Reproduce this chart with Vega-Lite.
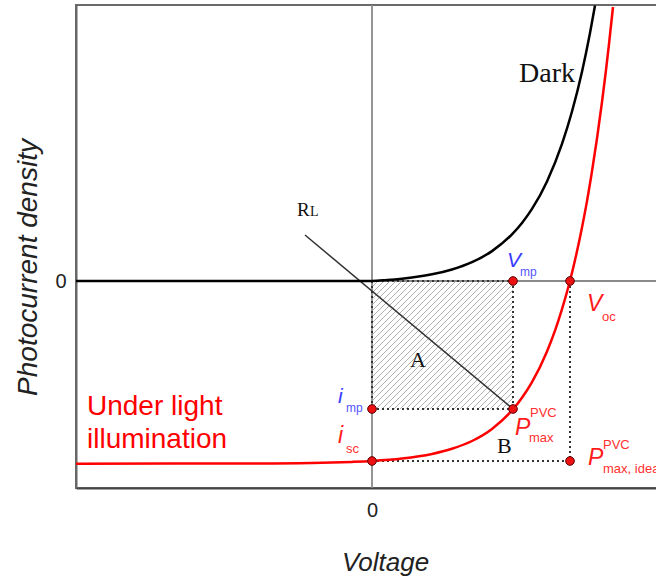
{
  "$schema": "https://vega.github.io/schema/vega-lite/v6.json",
  "width": 581,
  "height": 483,
  "autosize": "none",
  "padding": {"left": 76, "top": 5, "right": 0, "bottom": 89},
  "background": "white",
  "config": {
    "view": {"stroke": "#6a6a6a", "strokeWidth": 2},
    "axis": {"grid": false, "ticks": false, "labelFont": "Liberation Sans", "labelFontSize": 20, "labelColor": "#222", "titleFont": "Liberation Sans", "titleFontStyle": "italic", "titleFontWeight": "normal", "titleColor": "#222"}
  },
  "datasets": {
    "red": [
      {"x": -296, "y": -182.7}, {"x": -200, "y": -182.6}, {"x": -100, "y": -182.4}, {"x": -50, "y": -181.8},
      {"x": -20, "y": -180.9}, {"x": 0, "y": -180}, {"x": 30, "y": -177.6}, {"x": 60, "y": -173},
      {"x": 80, "y": -167.8}, {"x": 100, "y": -160}, {"x": 120, "y": -147.9}, {"x": 141, "y": -128.3},
      {"x": 150, "y": -116.8}, {"x": 160, "y": -101.2}, {"x": 175, "y": -70.5}, {"x": 183, "y": -49.7},
      {"x": 190, "y": -28.2}, {"x": 198, "y": 0.2}, {"x": 204, "y": 25.2}, {"x": 210, "y": 53.6},
      {"x": 215, "y": 79.9}, {"x": 220, "y": 109.7}, {"x": 225, "y": 142.5}, {"x": 230, "y": 179},
      {"x": 234, "y": 211}, {"x": 237, "y": 237}, {"x": 241, "y": 274}
    ],
    "dark": [
      {"x": -296, "y": 0}, {"x": 0, "y": 0}, {"x": 15, "y": 0.98}, {"x": 30, "y": 2.32}, {"x": 45, "y": 4.15},
      {"x": 60, "y": 6.65}, {"x": 80, "y": 11.5}, {"x": 100, "y": 18.8}, {"x": 120, "y": 29.9},
      {"x": 140, "y": 46.7}, {"x": 150, "y": 58.1}, {"x": 160, "y": 72.1}, {"x": 175, "y": 99.6},
      {"x": 190, "y": 137.2}, {"x": 200, "y": 169.5}, {"x": 210, "y": 209.3}, {"x": 218, "y": 248},
      {"x": 223, "y": 275.5}
    ],
    "hatch": [
      {"x": 0, "y": -6, "x2": 6, "y2": 0}, {"x": 0, "y": -12, "x2": 12, "y2": 0}, {"x": 0, "y": -18, "x2": 18, "y2": 0},
      {"x": 0, "y": -24, "x2": 24, "y2": 0}, {"x": 0, "y": -30, "x2": 30, "y2": 0}, {"x": 0, "y": -36, "x2": 36, "y2": 0},
      {"x": 0, "y": -42, "x2": 42, "y2": 0}, {"x": 0, "y": -48, "x2": 48, "y2": 0}, {"x": 0, "y": -54, "x2": 54, "y2": 0},
      {"x": 0, "y": -60, "x2": 60, "y2": 0}, {"x": 0, "y": -66, "x2": 66, "y2": 0}, {"x": 0, "y": -72, "x2": 72, "y2": 0},
      {"x": 0, "y": -78, "x2": 78, "y2": 0}, {"x": 0, "y": -84, "x2": 84, "y2": 0}, {"x": 0, "y": -90, "x2": 90, "y2": 0},
      {"x": 0, "y": -96, "x2": 96, "y2": 0}, {"x": 0, "y": -102, "x2": 102, "y2": 0}, {"x": 0, "y": -108, "x2": 108, "y2": 0},
      {"x": 0, "y": -114, "x2": 114, "y2": 0}, {"x": 0, "y": -120, "x2": 120, "y2": 0}, {"x": 0, "y": -126, "x2": 126, "y2": 0},
      {"x": 4, "y": -128, "x2": 132, "y2": 0}, {"x": 10, "y": -128, "x2": 138, "y2": 0}, {"x": 16, "y": -128, "x2": 141, "y2": -3},
      {"x": 22, "y": -128, "x2": 141, "y2": -9}, {"x": 28, "y": -128, "x2": 141, "y2": -15}, {"x": 34, "y": -128, "x2": 141, "y2": -21},
      {"x": 40, "y": -128, "x2": 141, "y2": -27}, {"x": 46, "y": -128, "x2": 141, "y2": -33}, {"x": 52, "y": -128, "x2": 141, "y2": -39},
      {"x": 58, "y": -128, "x2": 141, "y2": -45}, {"x": 64, "y": -128, "x2": 141, "y2": -51}, {"x": 70, "y": -128, "x2": 141, "y2": -57},
      {"x": 76, "y": -128, "x2": 141, "y2": -63}, {"x": 82, "y": -128, "x2": 141, "y2": -69}, {"x": 88, "y": -128, "x2": 141, "y2": -75},
      {"x": 94, "y": -128, "x2": 141, "y2": -81}, {"x": 100, "y": -128, "x2": 141, "y2": -87}, {"x": 106, "y": -128, "x2": 141, "y2": -93},
      {"x": 112, "y": -128, "x2": 141, "y2": -99}, {"x": 118, "y": -128, "x2": 141, "y2": -105}, {"x": 124, "y": -128, "x2": 141, "y2": -111},
      {"x": 130, "y": -128, "x2": 141, "y2": -117}, {"x": 136, "y": -128, "x2": 141, "y2": -123}
    ],
    "zerolines": [
      {"x": -296, "y": 0, "x2": 285, "y2": 0},
      {"x": 0, "y": -207, "x2": 0, "y2": 276}
    ],
    "dotted": [
      {"x": 0, "y": 0, "x2": 141, "y2": 0},
      {"x": 141, "y": 0, "x2": 141, "y2": -128},
      {"x": 0, "y": -128, "x2": 141, "y2": -128},
      {"x": 0, "y": 0, "x2": 0, "y2": -128},
      {"x": 0, "y": -180, "x2": 198, "y2": -180},
      {"x": 198, "y": 0, "x2": 198, "y2": -180}
    ],
    "load": [{"x": -67, "y": 46, "x2": 141, "y2": -128}],
    "points": [
      {"x": 141, "y": 0}, {"x": 198, "y": 0}, {"x": 0, "y": -128},
      {"x": 141, "y": -128}, {"x": 0, "y": -180}, {"x": 198, "y": -180}
    ],
    "serifBig": [{"x": 147, "y": 199, "t": "Dark"}],
    "serifMid": [{"x": 38, "y": -86, "t": "A"}, {"x": 125, "y": -172, "t": "B"}],
    "serifR": [{"x": -75, "y": 65, "t": "R"}],
    "serifL": [{"x": -62, "y": 65, "t": "L"}],
    "blueBig": [{"x": 135, "y": 14, "t": "V"}, {"x": -34, "y": -122, "t": "i"}],
    "blueSmall": [{"x": 148, "y": 5, "t": "mp"}, {"x": -26, "y": -131, "t": "mp"}],
    "redBig": [{"x": 215, "y": -30, "t": "V"}, {"x": -34, "y": -162, "t": "i"}, {"x": 143, "y": -154, "t": "P"}, {"x": 216, "y": -184, "t": "P"}],
    "redSmall": [
      {"x": 230, "y": -40, "t": "oc"}, {"x": -26, "y": -172, "t": "sc"},
      {"x": 158, "y": -136, "t": "PVC"}, {"x": 157, "y": -161, "t": "max"},
      {"x": 231, "y": -168, "t": "PVC"}, {"x": 231, "y": -192, "t": "max, ideal"}
    ],
    "illum": [{"x": -285, "y": -134, "t": "Under light"}, {"x": -285, "y": -167, "t": "illumination"}]
  },
  "encoding": {
    "x": {
      "field": "x", "type": "quantitative",
      "scale": {"domain": [-296, 285], "nice": false, "zero": false},
      "axis": {"values": [0], "domain": true, "domainColor": "#444", "domainWidth": 2, "labelPadding": 12,
               "title": "Voltage", "titleFontSize": 26, "titleX": 309, "titleY": 82, "titleBaseline": "alphabetic", "titleAlign": "center"}
    },
    "y": {
      "field": "y", "type": "quantitative",
      "scale": {"domain": [-207, 276], "nice": false, "zero": false},
      "axis": {"values": [0], "domain": true, "domainColor": "#666", "domainWidth": 2, "labelPadding": 10,
               "title": "Photocurrent density", "titleFontSize": 28, "titleX": -40, "titleY": 262, "titleBaseline": "alphabetic", "titleAlign": "center", "titleAngle": 270}
    }
  },
  "layer": [
    {"data": {"name": "hatch"}, "mark": {"type": "rule", "color": "#b0b0b0", "strokeWidth": 1}, "encoding": {"x2": {"field": "x2"}, "y2": {"field": "y2"}}},
    {"data": {"name": "zerolines"}, "mark": {"type": "rule", "color": "#8a8a8a", "strokeWidth": 1.8}, "encoding": {"x2": {"field": "x2"}, "y2": {"field": "y2"}}},
    {"data": {"name": "dotted"}, "mark": {"type": "rule", "color": "#333", "strokeWidth": 2, "strokeDash": [2, 3]}, "encoding": {"x2": {"field": "x2"}, "y2": {"field": "y2"}}},
    {"data": {"name": "load"}, "mark": {"type": "rule", "color": "#333", "strokeWidth": 1.5}, "encoding": {"x2": {"field": "x2"}, "y2": {"field": "y2"}}},
    {"data": {"name": "dark"}, "mark": {"type": "line", "color": "#000", "strokeWidth": 2.5, "interpolate": "monotone"}, "encoding": {}},
    {"data": {"name": "red"}, "mark": {"type": "line", "color": "#ff0000", "strokeWidth": 2.5, "interpolate": "monotone"}, "encoding": {}},
    {"data": {"name": "points"}, "mark": {"type": "circle", "size": 75, "fill": "#ee1111", "stroke": "#5a0000", "strokeWidth": 1, "opacity": 1}, "encoding": {}},
    {"data": {"name": "serifBig"}, "mark": {"type": "text", "align": "left", "baseline": "alphabetic", "font": "Liberation Serif", "fontSize": 28, "color": "#111"}, "encoding": {"text": {"field": "t"}}},
    {"data": {"name": "serifMid"}, "mark": {"type": "text", "align": "left", "baseline": "alphabetic", "font": "Liberation Serif", "fontSize": 22, "color": "#111"}, "encoding": {"text": {"field": "t"}}},
    {"data": {"name": "serifR"}, "mark": {"type": "text", "align": "left", "baseline": "alphabetic", "font": "Liberation Serif", "fontSize": 19, "color": "#111"}, "encoding": {"text": {"field": "t"}}},
    {"data": {"name": "serifL"}, "mark": {"type": "text", "align": "left", "baseline": "alphabetic", "font": "Liberation Serif", "fontSize": 14, "color": "#111"}, "encoding": {"text": {"field": "t"}}},
    {"data": {"name": "blueBig"}, "mark": {"type": "text", "align": "left", "baseline": "alphabetic", "font": "Liberation Sans", "fontStyle": "italic", "fontSize": 21, "color": "#3a3aff"}, "encoding": {"text": {"field": "t"}}},
    {"data": {"name": "blueSmall"}, "mark": {"type": "text", "align": "left", "baseline": "alphabetic", "font": "Liberation Sans", "fontSize": 12, "color": "#5555ff"}, "encoding": {"text": {"field": "t"}}},
    {"data": {"name": "redBig"}, "mark": {"type": "text", "align": "left", "baseline": "alphabetic", "font": "Liberation Sans", "fontStyle": "italic", "fontSize": 23, "color": "#ff1a1a"}, "encoding": {"text": {"field": "t"}}},
    {"data": {"name": "redSmall"}, "mark": {"type": "text", "align": "left", "baseline": "alphabetic", "font": "Liberation Sans", "fontSize": 13, "color": "#ff3030"}, "encoding": {"text": {"field": "t"}}},
    {"data": {"name": "illum"}, "mark": {"type": "text", "align": "left", "baseline": "alphabetic", "font": "Liberation Sans", "fontSize": 28, "color": "#ff0000"}, "encoding": {"text": {"field": "t"}}}
  ]
}
